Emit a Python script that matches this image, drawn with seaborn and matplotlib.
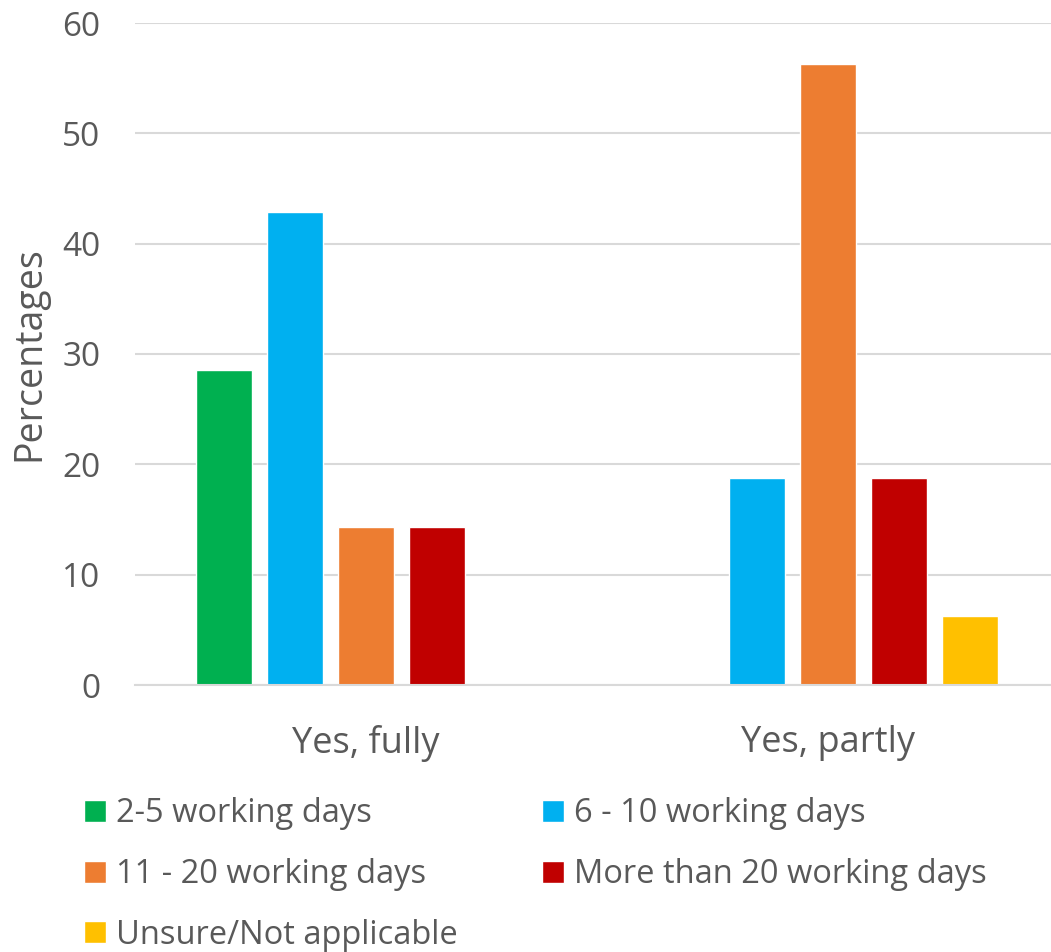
import matplotlib
matplotlib.use("Agg")
import matplotlib.pyplot as plt
import seaborn as sns
import pandas as pd

# Survey responses by category and duration (percent of respondents)
categories = ["Yes, fully", "Yes, partly"]
durations = [
    "2-5 working days",
    "6 - 10 working days",
    "11 - 20 working days",
    "More than 20 working days",
    "Unsure/Not applicable",
]
fully_values = [28.57, 42.86, 14.29, 14.29, 0.0]
partly_values = [0.0, 18.75, 56.25, 18.75, 6.25]
colors = ["#00B050", "#00B0F0", "#ED7D31", "#C00000", "#FFC000"]
y_ticks = [0, 10, 20, 30, 40, 50, 60]

rows = []
for cat, vals in zip(categories, [fully_values, partly_values]):
    for dur, v in zip(durations, vals):
        rows.append({"category": cat, "duration": dur, "value": v})
df = pd.DataFrame(rows)

sns.set_theme(style="white")
plt.rcParams["font.family"] = ["Open Sans", "DejaVu Sans"]
text_color = "#595959"
grid_color = "#D9D9D9"

fig = plt.figure(figsize=(10.51, 9.52), dpi=100)
W, H = 1051, 952
left, right, top, bottom = 135, 1051, 23, 685
ax = fig.add_axes([left / W, 1 - bottom / H, (right - left) / W, (bottom - top) / H])

sns.barplot(
    data=df, x="category", y="value", hue="duration",
    order=categories, hue_order=durations, palette=colors,
    width=0.766, gap=0.21, ax=ax, saturation=1, legend=True,
    errorbar=None,
)

ax.set_ylim(0, 60)
ax.set_xlim(-0.5, -0.5 + (right - left) / 462)
ax.set_yticks(y_ticks)
ax.set_yticklabels([str(t) for t in y_ticks])
ax.yaxis.grid(True, color=grid_color, linewidth=1.5)
ax.set_axisbelow(True)
for s in ["top", "right", "left"]:
    ax.spines[s].set_visible(False)
ax.spines["bottom"].set_color(grid_color)
ax.spines["bottom"].set_linewidth(1.5)

ax.tick_params(axis="y", length=0, pad=25, labelsize=24, labelcolor=text_color)
ax.tick_params(axis="x", length=0, pad=29, labelsize=26, labelcolor=text_color)
ax.set_xlabel("")
ax.set_ylabel("Percentages", fontsize=27, color=text_color, labelpad=10)

handles, labels = ax.get_legend_handles_labels()
ax.get_legend().remove()
order = [0, 2, 4, 1, 3]
fig.legend(
    [handles[i] for i in order], [labels[i] for i in order],
    ncol=2, loc="upper left", bbox_to_anchor=(55 / W, 1 - 768 / H),
    frameon=False, fontsize=23.5, labelcolor=text_color,
    handlelength=0.66, handleheight=0.66, handletextpad=0.3,
    columnspacing=2.6, labelspacing=0.85,
)

fig.savefig("out.png", dpi=100)
